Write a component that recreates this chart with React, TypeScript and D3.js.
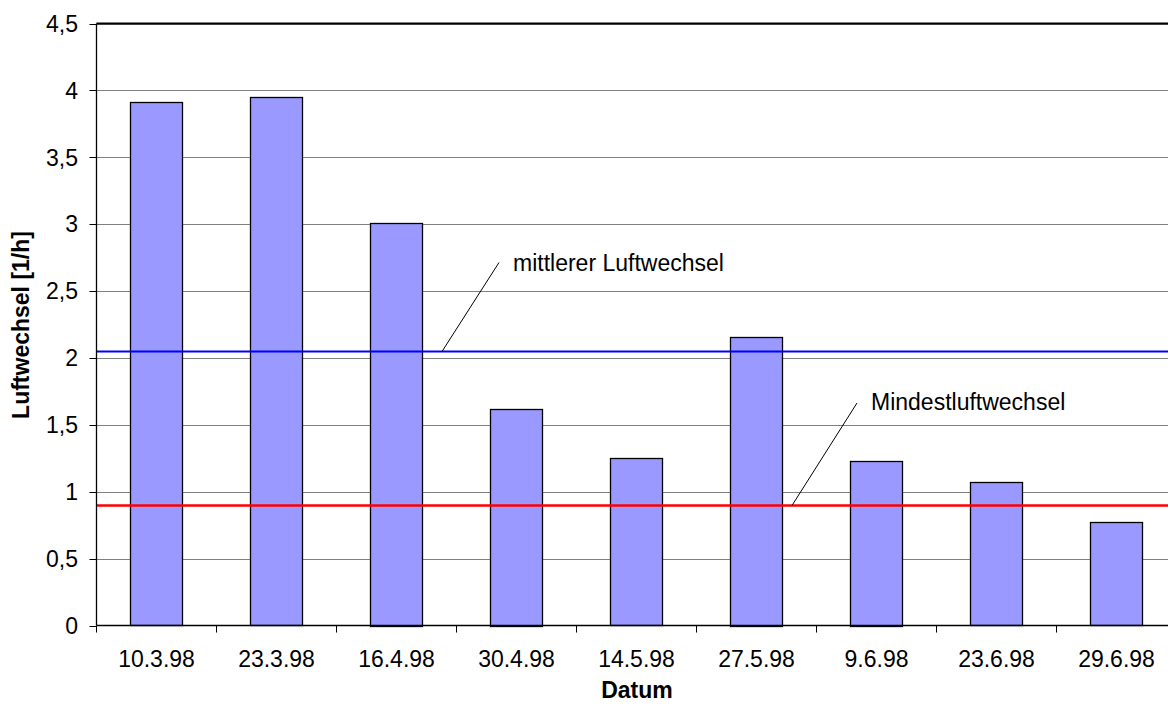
import React from "react";
import * as d3 from "d3";

const categories = ["10.3.98", "23.3.98", "16.4.98", "30.4.98", "14.5.98", "27.5.98", "9.6.98", "23.6.98", "29.6.98"];
const airChange = [3.91, 3.95, 3.01, 1.62, 1.25, 2.16, 1.23, 1.07, 0.77];
const yTicks = [0, 0.5, 1, 1.5, 2, 2.5, 3, 3.5, 4, 4.5];
const meanAirChange = 2.05;
const minAirChange = 0.9;

const W = 1168;
const H = 707;
const left = 96.5;
const right = left + 1080;
const top = 23.5;
const bottom = 625.5;

export default function App() {
  const x = d3.scaleBand<string>().domain(categories).range([left, right]).paddingInner(0.5666).paddingOuter(0.2833);
  const y = d3.scaleLinear().domain([0, 4.5]).range([bottom, top]);
  const fmt = (v: number) => String(v).replace(".", ",");
  const font = "Arial, 'Liberation Sans', sans-serif";
  const step = 120;
  const fs = 23;

  const yMean = Math.round(y(meanAirChange)) + 0.5;
  const yMin = Math.round(y(minAirChange)) + 0.5;

  return (
    <svg width={W} height={H} style={{ position: "absolute", left: 0, top: 0 }} fontFamily={font}>
      <rect x={0} y={0} width={W} height={H} fill="#fff" />
      {/* gridlines */}
      {yTicks.filter((t) => t > 0).map((t) => (
        <line key={t} x1={left} x2={right} y1={Math.round(y(t)) + 0.5} y2={Math.round(y(t)) + 0.5} stroke="#808080" strokeWidth={1} />
      ))}
      <line x1={left} x2={right} y1={top} y2={top} stroke="#000" strokeWidth={2} />
      {/* bars */}
      {categories.map((c, i) => (
        <rect
          key={c}
          x={Math.round(x(c)!) + 0.5}
          y={Math.round(y(airChange[i])) + 0.5}
          width={Math.round(x.bandwidth())}
          height={Math.round(bottom - y(airChange[i]))}
          fill="#9999FF"
          stroke="#000"
          strokeWidth={1.3}
        />
      ))}
      {/* reference lines */}
      <line x1={left} x2={W} y1={yMean} y2={yMean} stroke="#0000FF" strokeWidth={2} />
      <line x1={left} x2={W} y1={yMin} y2={yMin} stroke="#FF0000" strokeWidth={2.5} />
      {/* axes */}
      <line x1={left} x2={left} y1={top} y2={bottom} stroke="#000" strokeWidth={1.3} />
      <line x1={left} x2={right} y1={bottom} y2={bottom} stroke="#000" strokeWidth={1.3} />
      {yTicks.map((t) => (
        <g key={t}>
          <line x1={left - 7} x2={left} y1={Math.round(y(t)) + 0.5} y2={Math.round(y(t)) + 0.5} stroke="#000" />
          <text x={78} y={y(t)} dy="0.36em" textAnchor="end" fontSize={fs} fill="#000">
            {fmt(t)}
          </text>
        </g>
      ))}
      {categories.map((c, i) => (
        <g key={c}>
          <line x1={left + i * step} x2={left + i * step} y1={bottom} y2={bottom + 7} stroke="#000" />
          <text x={x(c)! + x.bandwidth() / 2} y={667} textAnchor="middle" fontSize={fs} fill="#000">
            {c}
          </text>
        </g>
      ))}
      {/* annotations */}
      <line x1={442} y1={yMean} x2={499} y2={262.5} stroke="#000" strokeWidth={1} />
      <text x={513} y={271} fontSize={fs} fill="#000">mittlerer Luftwechsel</text>
      <line x1={792} y1={yMin} x2={857} y2={403} stroke="#000" strokeWidth={1} />
      <text x={871} y={410} fontSize={fs} fill="#000">Mindestluftwechsel</text>
      {/* titles */}
      <text x={637} y={698} textAnchor="middle" fontSize={fs} fontWeight="bold" fill="#000">Datum</text>
      <text transform="translate(29,325) rotate(-90)" textAnchor="middle" fontSize={fs} fontWeight="bold" fill="#000">
        Luftwechsel [1/h]
      </text>
    </svg>
  );
}
